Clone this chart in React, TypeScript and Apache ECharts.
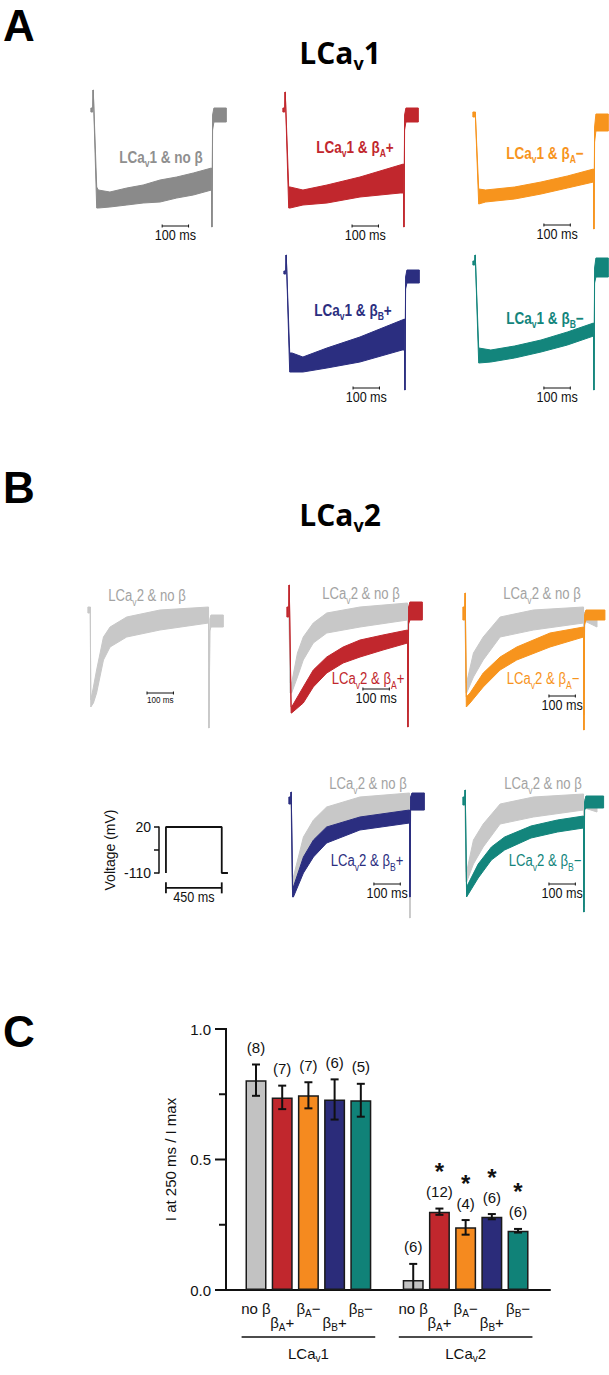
import React, { useEffect, useRef } from "react";
import * as echarts from "echarts";

// [time (ms), lower envelope, upper envelope] of the noisy current, normalized units
type Pt = [number, number, number];

// ---------- Panel A : LCav1 currents ----------
const aNoBeta: Pt[] = [
  [-8, 0.03, 0.07], [-1, 0.03, 0.07], [0, 0.25, 0.25], [1, 0.25, 0.25], [14, -0.93, -0.72],
  [20, -0.93, -0.75], [64, -0.92, -0.77], [128, -0.9, -0.73], [190, -0.88, -0.7], [254, -0.87, -0.65],
  [317, -0.83, -0.62], [380, -0.8, -0.58], [449, -0.75, -0.53], [450, -1.12, -1.12], [451, -1.12, -1.12],
  [453, -0.15, 0.0], [458, -0.07, 0.07], [505, -0.07, 0.07],
];
const aBetaAPlus: Pt[] = [
  [-8, 0.03, 0.07], [-1, 0.03, 0.07], [0, 0.23, 0.23], [1, 0.23, 0.23], [14, -0.93, -0.72],
  [19, -0.93, -0.72], [68, -0.9, -0.75], [159, -0.88, -0.7], [284, -0.82, -0.62], [436, -0.78, -0.5],
  [449, -0.78, -0.49], [450, -1.12, -1.12], [451, -1.12, -1.12], [453, -0.15, 0.0], [458, -0.07, 0.07],
  [505, -0.07, 0.07],
];
const aBetaAMinus: Pt[] = [
  [-8, 0.05, 0.1], [-1, 0.05, 0.1], [0, 0.1, 0.1], [1, 0.1, 0.1], [14, -0.82, -0.67],
  [40, -0.8, -0.68], [150, -0.77, -0.65], [250, -0.72, -0.6], [350, -0.66, -0.54], [449, -0.6, -0.47],
  [450, -1.07, -1.07], [451, -1.07, -1.07], [453, -0.2, -0.05], [458, -0.09, 0.08], [505, -0.09, 0.08],
];
const aBetaBPlus: Pt[] = [
  [-8, 0.03, 0.06], [-1, 0.03, 0.06], [0, 0.22, 0.22], [1, 0.22, 0.22], [14, -0.95, -0.76],
  [23, -0.95, -0.76], [64, -0.95, -0.8], [155, -0.91, -0.71], [280, -0.85, -0.6], [440, -0.73, -0.43],
  [449, -0.73, -0.42], [450, -1.13, -1.13], [451, -1.13, -1.13], [453, -0.12, 0.0], [458, -0.06, 0.07],
  [505, -0.06, 0.07],
];
const aBetaBMinus: Pt[] = [
  [-8, 0.03, 0.07], [-1, 0.03, 0.07], [0, 0.13, 0.13], [1, 0.13, 0.13], [14, -0.95, -0.8],
  [60, -0.94, -0.82], [150, -0.9, -0.78], [250, -0.84, -0.72], [350, -0.77, -0.64], [449, -0.68, -0.55],
  [450, -1.22, -1.22], [451, -1.22, -1.22], [453, -0.15, 0.0], [458, -0.09, 0.1], [505, -0.09, 0.1],
];

// ---------- Panel B : LCav2 currents ----------
const bNoBeta: Pt[] = [
  [-8, 0.08, 0.14], [-1, 0.08, 0.14], [0, 0.14, 0.14], [1, 0.14, 0.14], [3, -0.86, -0.79],
  [13, -0.82, -0.66], [25, -0.72, -0.49], [51, -0.39, -0.16], [76, -0.26, -0.06], [139, -0.16, 0.04],
  [265, -0.09, 0.11], [449, -0.02, 0.14], [450, -1.07, -1.07], [451, -1.07, -1.07], [454, -0.1, 0.02],
  [458, -0.06, 0.06], [505, -0.06, 0.06],
];
const bNoBetaVsAPlus: Pt[] = [
  [0, 0.05, 0.05], [4, -0.81, -0.71], [10, -0.81, -0.71], [32, -0.65, -0.41], [54, -0.48, -0.25],
  [92, -0.31, -0.11], [143, -0.21, -0.01], [269, -0.15, 0.05], [449, -0.08, 0.09], [450, -1.0, -1.0],
  [451, -1.0, -1.0], [453, -0.05, 0.05], [505, -0.06, 0.08],
];
const bBetaAPlus: Pt[] = [
  [-8, -0.05, 0.05], [-1, -0.05, 0.05], [0, 0.27, 0.27], [1, 0.27, 0.27], [8, -1.01, -0.95],
  [10, -1.01, -0.95], [54, -0.91, -0.75], [92, -0.75, -0.58], [143, -0.61, -0.45], [205, -0.51, -0.35],
  [269, -0.45, -0.28], [356, -0.38, -0.23], [449, -0.31, -0.18], [450, -1.15, -1.15], [451, -1.15, -1.15],
  [453, -0.12, 0.05], [458, -0.08, 0.1], [505, -0.08, 0.1],
];
const bNoBetaVsAMinus: Pt[] = [
  [0, 0.05, 0.05], [4, -0.78, -0.68], [6, -0.78, -0.68], [32, -0.62, -0.38], [69, -0.45, -0.22],
  [133, -0.22, -0.02], [259, -0.15, 0.05], [449, -0.08, 0.08], [450, -1.0, -1.0], [451, -1.0, -1.0],
  [453, -0.06, 0.03], [500, -0.12, -0.02],
];
const bBetaAMinus: Pt[] = [
  [-8, -0.05, 0.08], [-1, -0.05, 0.08], [0, 0.22, 0.22], [1, 0.22, 0.22], [5, -0.92, -0.82],
  [19, -0.88, -0.78], [69, -0.72, -0.58], [133, -0.55, -0.42], [196, -0.45, -0.32], [322, -0.32, -0.18],
  [449, -0.22, -0.12], [450, -1.15, -1.15], [451, -1.15, -1.15], [453, -0.1, 0.0], [458, -0.05, 0.05],
  [530, -0.05, 0.05],
];
const bNoBetaVsBPlus: Pt[] = [
  [0, 0.05, 0.05], [5, -0.88, -0.75], [9, -0.88, -0.75], [47, -0.55, -0.35], [85, -0.38, -0.18],
  [135, -0.25, -0.05], [261, -0.15, 0.05], [449, -0.08, 0.09], [450, -1.16, -1.16], [451, -1.16, -1.16],
  [453, -0.08, 0.05], [505, -0.08, 0.09],
];
const bBetaBPlus: Pt[] = [
  [-8, -0.02, 0.05], [-1, -0.02, 0.05], [0, 0.1, 0.1], [1, 0.1, 0.1], [6, -0.95, -0.85],
  [9, -0.95, -0.85], [47, -0.71, -0.55], [85, -0.55, -0.38], [135, -0.41, -0.25], [261, -0.28, -0.15],
  [449, -0.21, -0.08], [450, -0.95, -0.95], [451, -0.95, -0.95], [453, -0.08, 0.05], [458, -0.08, 0.09],
  [505, -0.08, 0.09],
];
const bNoBetaVsBMinus: Pt[] = [
  [0, 0.05, 0.05], [4, -0.8, -0.7], [6, -0.8, -0.7], [32, -0.62, -0.38], [69, -0.45, -0.22],
  [133, -0.22, -0.02], [259, -0.15, 0.05], [449, -0.08, 0.08], [450, -1.05, -1.05], [451, -1.05, -1.05],
  [453, -0.06, 0.03], [500, -0.1, 0.0],
];
const bBetaBMinus: Pt[] = [
  [-8, -0.03, 0.05], [-1, -0.03, 0.05], [0, 0.12, 0.12], [1, 0.12, 0.12], [6, -0.95, -0.85],
  [50, -0.76, -0.62], [100, -0.58, -0.45], [150, -0.48, -0.35], [250, -0.36, -0.24], [350, -0.3, -0.18],
  [449, -0.26, -0.14], [450, -1.1, -1.1], [451, -1.1, -1.1], [453, -0.08, 0.0], [458, -0.06, 0.06],
  [525, -0.06, 0.06],
];

// ---------- Voltage protocol ----------
const protocolT = [0, 0, 450, 450, 500];
const protocolV = [-110, 20, 20, -110, -110];
const protocolTicks = [-110, -45, 20];
const protocolLabels = [-110, 20];
const protocolBarMs = 450;
const traceBarMs = 100;

// ---------- Panel C ----------
const conditions = ["no β", "β_A+", "β_A−", "β_B+", "β_B−"];
const channels = ["LCa_v1", "LCa_v2"];
const meanV1 = [0.804, 0.738, 0.746, 0.73, 0.727];
const semV1 = [0.06, 0.045, 0.05, 0.077, 0.063];
const nV1 = [8, 7, 7, 6, 5];
const sigV1 = [false, false, false, false, false];
const meanV2 = [0.038, 0.3, 0.24, 0.281, 0.227];
const semV2 = [0.062, 0.012, 0.028, 0.01, 0.007];
const nV2 = [6, 12, 4, 6, 6];
const sigV2 = [false, true, true, true, true];
const cMajorTicks = [0, 0.5, 1.0];
const cMinorTicks = [0.25, 0.75];

// ---------- styles / layout ----------
const COL = {
  greyA: "#8a8a8a", greyAText: "#8f8f8f", greyB: "#c8c8c8", greyBText: "#a3a3a3",
  red: "#c1272d", orange: "#f7941d", navy: "#2b2e80", teal: "#13857c",
  barGrey: "#c2c2c2", barRed: "#c1272d", barOrange: "#f58a1f", barNavy: "#2b2c7a", barTeal: "#108278",
};
const barColors = [COL.barGrey, COL.barRed, COL.barOrange, COL.barNavy, COL.barTeal];
const SANS = '"Liberation Sans", Arial, sans-serif';
const TITLE = '"Open Sans", "Liberation Sans", sans-serif';
const NARROW_SCALE = 0.82;
const K = 0.264; // px per ms in trace panels
const PX = 100; // px per current unit
const C_XMIN = -1.145;
const C_XMAX = 11.22;

const PANELS = [
  { sx: 93, by: 115, traces: [{ d: aNoBeta, c: COL.greyA }], bar: { t: 262, y: -1.11, fs: 14 },
    labels: [{ x: 161, y: 157, s: "LCa_v1 & no β", c: COL.greyAText, b: true }] },
  { sx: 285, by: 115, traces: [{ d: aBetaAPlus, c: COL.red }], bar: { t: 254, y: -1.11, fs: 14 },
    labels: [{ x: 355, y: 147, s: "LCa_v1 & β_A+", c: COL.red, b: true }] },
  { sx: 475, by: 122, traces: [{ d: aBetaAMinus, c: COL.orange }], bar: { t: 261, y: -1.03, fs: 14 },
    labels: [{ x: 545, y: 153, s: "LCa_v1 & β_A−", c: COL.orange, b: true }] },
  { sx: 286, by: 277, traces: [{ d: aBetaBPlus, c: COL.navy }], bar: { t: 254, y: -1.11, fs: 14 },
    labels: [{ x: 353, y: 310, s: "LCa_v1 & β_B+", c: COL.navy, b: true }] },
  { sx: 475, by: 268, traces: [{ d: aBetaBMinus, c: COL.teal }], bar: { t: 261, y: -1.2, fs: 14 },
    labels: [{ x: 545, y: 318, s: "LCa_v1 & β_B−", c: COL.teal, b: true }] },
  { sx: 90, by: 621, traces: [{ d: bNoBeta, c: COL.greyB }], bar: { t: 216, y: -0.72, fs: 9 },
    labels: [{ x: 147, y: 596, s: "LCa_v2 & no β", c: COL.greyBText, b: false }] },
  { sx: 289, by: 612, traces: [{ d: bNoBetaVsAPlus, c: COL.greyB }, { d: bBetaAPlus, c: COL.red }], bar: { t: 280, y: -0.77, fs: 14 },
    labels: [{ x: 361, y: 594, s: "LCa_v2 & no β", c: COL.greyBText, b: false }, { x: 368, y: 679, s: "LCa_v2 & β_A+", c: COL.red, b: false }] },
  { sx: 465, by: 615, traces: [{ d: bNoBetaVsAMinus, c: COL.greyB }, { d: bBetaAMinus, c: COL.orange }], bar: { t: 318, y: -0.81, fs: 14 },
    labels: [{ x: 542, y: 594, s: "LCa_v2 & no β", c: COL.greyBText, b: false }, { x: 543, y: 679, s: "LCa_v2 & β_A−", c: COL.orange, b: false }] },
  { sx: 291, by: 802, traces: [{ d: bNoBetaVsBPlus, c: COL.greyB }, { d: bBetaBPlus, c: COL.navy }], bar: { t: 314, y: -0.82, fs: 14 },
    labels: [{ x: 368, y: 784, s: "LCa_v2 & no β", c: COL.greyBText, b: false }, { x: 367, y: 861, s: "LCa_v2 & β_B+", c: COL.navy, b: false }] },
  { sx: 465, by: 802, traces: [{ d: bNoBetaVsBMinus, c: COL.greyB }, { d: bBetaBMinus, c: COL.teal }], bar: { t: 318, y: -0.82, fs: 14 },
    labels: [{ x: 543, y: 784, s: "LCa_v2 & no β", c: COL.greyBText, b: false }, { x: 545, y: 861, s: "LCa_v2 & β_B−", c: COL.teal, b: false }] },
];

const toRich = (s: string, m: string, sub: string) =>
  s.split(/(_.)/).filter(Boolean).map((tk) => (tk.startsWith("_") ? `{${sub}|${tk.slice(1)}}` : `{${m}|${tk}}`)).join("");

function richText(x: number, y: number, s: string, color: string, size: number, subSize: number, pad: number, weight: string, family: string, sx = 1) {
  return {
    type: "text", x, y: y + pad / 2, scaleX: sx, silent: true, z: 10,
    style: {
      text: toRich(s, "m", "s"), align: "center", verticalAlign: "middle",
      rich: {
        m: { fontSize: size, fontWeight: weight, fontFamily: family, fill: color, padding: [0, 0, pad, 0] },
        s: { fontSize: subSize, fontWeight: weight, fontFamily: family, fill: color },
      },
    },
  };
}

function scaleBarSeries(idx: number, t0: number, y: number, len: number, fs: number, serif: number, gap: number, lw: number) {
  return {
    type: "custom", xAxisIndex: idx, yAxisIndex: idx, silent: true, clip: false, z: 6,
    data: [[t0, y, len]],
    renderItem: (_p: any, api: any) => {
      const a = api.coord([api.value(0), api.value(1)]);
      const b = api.coord([api.value(0) + api.value(2), api.value(1)]);
      const st = { stroke: "#111", lineWidth: lw };
      return {
        type: "group",
        children: [
          { type: "line", shape: { x1: a[0], y1: a[1], x2: b[0], y2: b[1] }, style: st },
          { type: "line", shape: { x1: a[0], y1: a[1] - serif, x2: a[0], y2: a[1] + serif }, style: st },
          { type: "line", shape: { x1: b[0], y1: b[1] - serif, x2: b[0], y2: b[1] + serif }, style: st },
          { type: "text", x: (a[0] + b[0]) / 2, y: a[1] + gap, scaleX: 0.9,
            style: { text: `${api.value(2)} ms`, fontSize: fs, fontFamily: SANS, fill: "#111", align: "center", verticalAlign: "top" } },
        ],
      };
    },
  };
}

function traceSeries(idx: number, d: Pt[], color: string, z: number) {
  return {
    type: "custom", xAxisIndex: idx, yAxisIndex: idx, silent: true, clip: false, z,
    data: d.map((q) => [q[0], q[1], q[2]]),
    encode: { x: 0, y: [1, 2] },
    renderItem: (params: any, api: any) => {
      if (params.dataIndex !== 0) return { type: "group", children: [] };
      const pts: number[][] = [];
      d.forEach((q) => pts.push(api.coord([q[0], q[1]])));
      for (let k = d.length - 1; k >= 0; k--) pts.push(api.coord([d[k][0], d[k][2]]));
      return { type: "polygon", shape: { points: pts }, style: { fill: color, stroke: color, lineWidth: 1, lineJoin: "round" } };
    },
  };
}

function buildOption() {
  const grid: any[] = [], xAxis: any[] = [], yAxis: any[] = [], series: any[] = [], graphic: any[] = [];

  PANELS.forEach((p, i) => {
    grid.push({ left: p.sx - 10 * K, top: p.by - 0.4 * PX, width: 550 * K, height: 1.7 * PX, outerBoundsMode: "none" });
    xAxis.push({ type: "value", gridIndex: i, min: -10, max: 540, show: false });
    yAxis.push({ type: "value", gridIndex: i, min: -1.3, max: 0.4, show: false });
    p.traces.forEach((tr, j) => series.push(traceSeries(i, tr.d, tr.c, 2 + j)));
    series.push(scaleBarSeries(i, p.bar.t, p.bar.y, traceBarMs, p.bar.fs, 1.5, 2, 1));
    p.labels.forEach((l) => {
      const size = l.b ? 16.5 : 16;
      graphic.push(richText(l.x, l.y, l.s, l.c, size, 10.5, 12, l.b ? "bold" : "normal", SANS, NARROW_SCALE));
    });
  });

  // voltage protocol
  const vi = PANELS.length;
  const vK = 0.124;
  grid.push({ left: 159, top: 827, width: 556 * vK, height: 46, outerBoundsMode: "none" });
  xAxis.push({ type: "value", gridIndex: vi, min: -56, max: 500, show: false });
  yAxis.push({
    type: "value", gridIndex: vi, min: -110, max: 20, position: "left",
    axisLine: { show: true, onZero: false, lineStyle: { color: "#111", width: 1.5 } },
    axisTick: { show: true, customValues: protocolTicks, length: 5, lineStyle: { color: "#111", width: 1.5 } },
    axisLabel: { show: true, customValues: protocolLabels, fontSize: 14, color: "#111", margin: 8, fontFamily: SANS },
    splitLine: { show: false },
    name: "Voltage (mV)", nameLocation: "middle", nameRotate: 90, nameGap: 42,
    nameTextStyle: { fontSize: 14, color: "#111", fontFamily: SANS },
  });
  series.push({
    type: "line", xAxisIndex: vi, yAxisIndex: vi, symbol: "none", silent: true, clip: false,
    lineStyle: { color: "#111", width: 1.8 }, data: protocolT.map((t, k) => [t, protocolV[k]]),
  });
  series.push(scaleBarSeries(vi, 0, -152, protocolBarMs, 14, 5.5, 2, 1.8));

  // panel C
  const ci = vi + 1;
  grid.push({ left: 226, top: 1029, width: 324, height: 261, outerBoundsMode: "none" });
  const slotOf = (g: number, c: number) => g * (conditions.length + 1) + c;
  xAxis.push({
    type: "value", gridIndex: ci, min: C_XMIN, max: C_XMAX, position: "bottom",
    axisLine: { show: true, onZero: false, lineStyle: { color: "#111", width: 2 } },
    axisTick: { show: false }, splitLine: { show: false }, axisLabel: { show: false },
  });
  yAxis.push({
    type: "value", gridIndex: ci, min: 0, max: 1, interval: 0.5, position: "left",
    axisLine: { show: true, onZero: false, lineStyle: { color: "#111", width: 2 } },
    axisTick: { show: false }, minorTick: { show: false },
    splitLine: { show: false }, minorSplitLine: { show: false },
    axisLabel: { customValues: cMajorTicks, formatter: (v: number) => v.toFixed(1), fontSize: 15, color: "#111", margin: 15, fontFamily: SANS },
    name: "I at 250 ms / I max", nameLocation: "middle", nameRotate: 90, nameGap: 48,
    nameTextStyle: { fontSize: 15, color: "#111", fontFamily: SANS },
  });
  // y-axis spine and ticks drawn through the axis scale
  series.push({
    type: "custom", xAxisIndex: ci, yAxisIndex: ci, silent: true, clip: false, z: 8,
    data: [[C_XMIN, 0, 1]], encode: { x: 0, y: [1, 2] },
    renderItem: (_p: any, api: any) => {
      const x = api.value(0);
      const a = api.coord([x, api.value(1)]);
      const b = api.coord([x, api.value(2)]);
      const st = { stroke: "#111", lineWidth: 2, lineCap: "square" };
      const ch: any[] = [{ type: "line", shape: { x1: a[0], y1: a[1], x2: b[0], y2: b[1] }, style: st }];
      cMajorTicks.forEach((v) => {
        const p = api.coord([x, v]);
        ch.push({ type: "line", shape: { x1: p[0] - 10, y1: p[1], x2: p[0], y2: p[1] }, style: st });
      });
      cMinorTicks.forEach((v) => {
        const p = api.coord([x, v]);
        ch.push({ type: "line", shape: { x1: p[0] - 6, y1: p[1], x2: p[0], y2: p[1] }, style: st });
      });
      return { type: "group", children: ch };
    },
  });

  const means = [meanV1, meanV2], sems = [semV1, semV2], ns = [nV1, nV2], sigs = [sigV1, sigV2];
  const barData: any[] = [], errData: any[] = [], labData: any[] = [];
  channels.forEach((_, g) =>
    conditions.forEach((__, c) => {
      const x = slotOf(g, c);
      barData.push({ value: [x, means[g][c]], itemStyle: { color: barColors[c] } });
      errData.push([x, means[g][c], sems[g][c], ns[g][c], sigs[g][c] ? 1 : 0]);
      labData.push([x, 0, c]);
    })
  );
  series.push({
    type: "bar", xAxisIndex: ci, yAxisIndex: ci, barWidth: 21, silent: true, data: barData,
    itemStyle: { borderColor: "#1a1a1a", borderWidth: 1.5 },
  });
  series.push({
    type: "custom", xAxisIndex: ci, yAxisIndex: ci, silent: true, clip: false, z: 5, data: errData,
    encode: { x: 0, y: 1 },
    renderItem: (_p: any, api: any) => {
      const x = api.value(0), m = api.value(1), e = api.value(2);
      const lowV = Math.max(0, m - e);
      const top = api.coord([x, m + e]);
      const bot = api.coord([x, lowV]);
      const st = { stroke: "#111", lineWidth: 2 };
      const ch: any[] = [
        { type: "line", shape: { x1: top[0], y1: top[1], x2: bot[0], y2: bot[1] }, style: st },
        { type: "line", shape: { x1: top[0] - 4, y1: top[1], x2: top[0] + 4, y2: top[1] }, style: st },
      ];
      if (m - e > 0) ch.push({ type: "line", shape: { x1: bot[0] - 4, y1: bot[1], x2: bot[0] + 4, y2: bot[1] }, style: st });
      ch.push({ type: "text", x: top[0], y: top[1] - 17,
        style: { text: `(${api.value(3)})`, fontSize: 15, fontFamily: SANS, fill: "#111", align: "center", verticalAlign: "middle" } });
      if (api.value(4) === 1)
        ch.push({ type: "text", x: top[0], y: top[1] - 37,
          style: { text: "*", fontSize: 24, fontWeight: "bold", fontFamily: SANS, fill: "#111", align: "center", verticalAlign: "middle" } });
      return { type: "group", children: ch };
    },
  });
  // condition labels under bars (staggered)
  series.push({
    type: "custom", xAxisIndex: ci, yAxisIndex: ci, silent: true, clip: false, z: 5, data: labData,
    encode: { x: 0, y: 1 },
    renderItem: (_p: any, api: any) => {
      const c = api.value(2);
      const p = api.coord([api.value(0), api.value(1)]);
      const low = c % 2 === 1;
      const pad = 11.5;
      return {
        type: "text", x: p[0], y: p[1] + (low ? 32 : 18) + pad / 2,
        style: {
          text: toRich(conditions[c], "m", "s"), align: "center", verticalAlign: "middle",
          rich: {
            m: { fontSize: 15, fontFamily: SANS, fill: "#111", padding: [0, 0, pad, 0] },
            s: { fontSize: 10, fontFamily: SANS, fill: "#111" },
          },
        },
      };
    },
  });
  series.push({
    type: "custom", xAxisIndex: ci, yAxisIndex: ci, silent: true, clip: false, z: 5,
    data: channels.map((_, g) => [slotOf(g, 0) - 0.55, 0, slotOf(g, conditions.length - 1) + 0.55, g]),
    encode: { x: 0, y: 1 },
    renderItem: (_p: any, api: any) => {
      const a = api.coord([api.value(0), api.value(1)]);
      const b = api.coord([api.value(2), api.value(1)]);
      const y = a[1] + 47;
      return {
        type: "group",
        children: [
          { type: "line", shape: { x1: a[0], y1: y, x2: b[0], y2: y }, style: { stroke: "#111", lineWidth: 1.5 } },
          {
            type: "text", x: (a[0] + b[0]) / 2, y: y + 16 + 5,
            style: {
              text: toRich(channels[api.value(3)], "m", "s"), align: "center", verticalAlign: "middle",
              rich: {
                m: { fontSize: 15, fontFamily: SANS, fill: "#111", padding: [0, 0, 10, 0] },
                s: { fontSize: 10, fontFamily: SANS, fill: "#111" },
              },
            },
          },
        ],
      };
    },
  });

  // panel letters & titles
  [["A", 25], ["B", 487], ["C", 1031]].forEach(([t, y]) =>
    graphic.push({ type: "text", x: 3, y: y as number, silent: true,
      style: { text: t as string, fontSize: 44, fontWeight: "bold", fontFamily: SANS, fill: "#000", align: "left", verticalAlign: "middle" } })
  );
  graphic.push(richText(340, 52, "LCa_v1", "#000", 30, 18, 21, "bold", TITLE));
  graphic.push(richText(340, 514, "LCa_v2", "#000", 30, 18, 21, "bold", TITLE));

  return {
    animation: false, backgroundColor: "#fff",
    textStyle: { fontFamily: SANS },
    grid, xAxis, yAxis, series, graphic,
  };
}

export default function App() {
  const ref = useRef<HTMLDivElement>(null);
  useEffect(() => {
    const chart = echarts.init(ref.current!, null, { renderer: "svg" });
    chart.setOption(buildOption() as any);
    return () => chart.dispose();
  }, []);
  return <div ref={ref} style={{ position: "absolute", left: 0, top: 0, width: 609, height: 1375, background: "#fff" }} />;
}
